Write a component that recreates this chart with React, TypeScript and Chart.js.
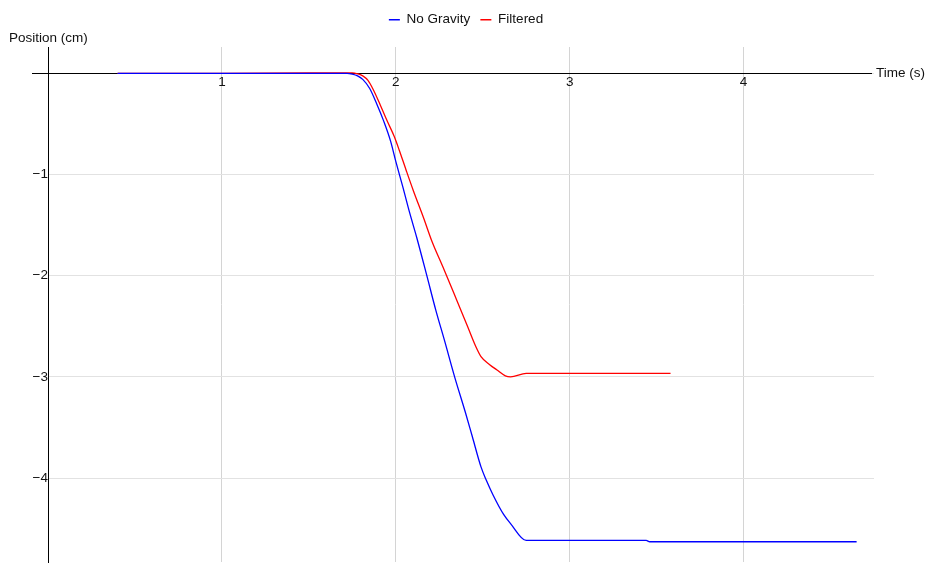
import React, { useEffect, useRef } from "react";
import { Chart, registerables } from "chart.js";

Chart.register(...registerables);

// ---- data ----
const noGravityTime = [0.40, 1.0, 1.5, 1.72, 1.75, 1.78, 1.81, 1.85, 1.89, 1.93, 1.97, 2.00, 2.04, 2.08, 2.12, 2.18, 2.23, 2.28, 2.34, 2.40, 2.44, 2.49, 2.52, 2.56, 2.62, 2.66, 2.75, 3.44, 3.46, 4.65];
const noGravityPos = [0, 0, 0, 0, -0.008, -0.025, -0.06, -0.15, -0.30, -0.47, -0.67, -0.87, -1.12, -1.38, -1.62, -2.01, -2.34, -2.64, -3.01, -3.35, -3.59, -3.89, -4.02, -4.17, -4.36, -4.45, -4.617, -4.617, -4.63, -4.63];

const filteredTime = [0.40, 1.0, 1.5, 1.72, 1.75, 1.78, 1.81, 1.84, 1.87, 1.91, 1.95, 1.99, 2.02, 2.06, 2.10, 2.16, 2.21, 2.27, 2.35, 2.41, 2.46, 2.49, 2.54, 2.58, 2.63, 2.66, 2.75, 3.58];
const filteredPos = [0, 0, 0.005, 0.005, 0.005, -0.005, -0.025, -0.07, -0.16, -0.31, -0.47, -0.62, -0.76, -0.96, -1.155, -1.43, -1.67, -1.91, -2.24, -2.49, -2.70, -2.80, -2.88, -2.93, -2.99, -3.0, -2.965, -2.965];

const seriesNames = ["No Gravity", "Filtered"];
const seriesColors = ["#0000ff", "#ff0000"];
const xTitle = "Time (s)";
const yTitle = "Position (cm)";
const xRange = [0, 4.75];
const yRange = [-4.83, 0.26];

const FONT = "'Liberation Sans', Arial, Helvetica, sans-serif";
const FS = 13.5;

function zip(xs: number[], ys: number[]) {
  return xs.map((x, i) => ({ x, y: ys[i] }));
}

const zeroPad = (s: any) => {
  s.paddingTop = 0;
  s.paddingBottom = 0;
  s.paddingLeft = 0;
  s.paddingRight = 0;
};

const decorPlugin = {
  id: "decor",
  afterLayout(chart: any) {
    if (chart.legend) {
      chart.legend.left += 5;
      chart.legend.right += 5;
    }
  },
  beforeDatasetsDraw(chart: any) {
    const ctx = chart.ctx;
    const ys = chart.scales.y;
    const y0 = Math.round(ys.getPixelForValue(0)) + 0.5;
    ctx.save();
    ctx.strokeStyle = "#000";
    ctx.lineWidth = 1;
    ctx.beginPath();
    ctx.moveTo(32, y0);
    ctx.lineTo(872, y0);
    ctx.stroke();
    ctx.restore();
  },
  afterDraw(chart: any) {
    const ctx = chart.ctx;
    const ys = chart.scales.y;
    const y0 = ys.getPixelForValue(0);
    ctx.save();
    ctx.fillStyle = "#111";
    ctx.font = `${FS}px ${FONT}`;
    ctx.textBaseline = "middle";
    ctx.textAlign = "left";
    ctx.fillText(yTitle, 9, 38);
    ctx.fillText(xTitle, 876, y0);
    ctx.restore();
  },
};

export default function App() {
  const ref = useRef<HTMLCanvasElement | null>(null);

  useEffect(() => {
    document.body.style.margin = "0";
    const canvas = ref.current;
    if (!canvas) return;
    Chart.defaults.font.family = FONT;
    Chart.defaults.font.size = FS;
    Chart.defaults.color = "#111";

    const chart = new Chart(canvas, {
      type: "line",
      data: {
        datasets: [
          {
            label: seriesNames[0],
            data: zip(noGravityTime, noGravityPos),
            borderColor: seriesColors[0],
            backgroundColor: seriesColors[0],
            borderWidth: 1.3,
            pointRadius: 0,
            cubicInterpolationMode: "monotone",
            fill: false,
          },
          {
            label: seriesNames[1],
            data: zip(filteredTime, filteredPos),
            borderColor: seriesColors[1],
            backgroundColor: seriesColors[1],
            borderWidth: 1.3,
            pointRadius: 0,
            cubicInterpolationMode: "monotone",
            fill: false,
          },
        ],
      },
      options: {
        animation: false,
        responsive: false,
        layout: {
          autoPadding: false,
          padding: { left: 48, right: 54, top: 3, bottom: 1 },
        },
        plugins: {
          legend: {
            display: true,
            position: "top",
            labels: {
              usePointStyle: true,
              pointStyle: "line",
              pointStyleWidth: 11,
              padding: 10,
              color: "#111",
              font: { size: FS, family: FONT },
            },
          },
          tooltip: { enabled: false },
        },
        scales: {
          x: {
            type: "linear",
            min: xRange[0],
            max: xRange[1],
            position: { y: 0 },
            afterFit: zeroPad,
            border: { display: false },
            grid: { color: "#d4d4d4", lineWidth: 1, drawTicks: false },
            ticks: {
              stepSize: 1,
              includeBounds: false,
              padding: 1,
              maxRotation: 0,
              autoSkip: false,
              callback: (v: any) => (v === 0 ? "" : String(v)),
            },
          },
          y: {
            type: "linear",
            min: yRange[0],
            max: yRange[1],
            position: { x: 0 },
            afterFit: zeroPad,
            border: { display: true, color: "#000", width: 1 },
            grid: { color: "#e2e2e2", lineWidth: 1, drawTicks: false },
            ticks: {
              stepSize: 1,
              includeBounds: false,
              padding: 0,
              autoSkip: false,
              callback: (v: any) => (v === 0 ? "" : "\u2212" + Math.abs(v)),
            },
          },
          padTop: {
            type: "linear",
            position: "top",
            axis: "x",
            display: true,
            afterFit: (s: any) => {
              zeroPad(s);
              s.height = 10.5;
            },
            grid: { display: false, drawTicks: false },
            border: { display: false },
            ticks: { display: false },
          },
        },
      } as any,
      plugins: [decorPlugin],
    });
    return () => chart.destroy();
  }, []);

  return (
    <canvas
      ref={ref}
      width={928}
      height={563}
      style={{ display: "block", width: 928, height: 563 }}
    />
  );
}
